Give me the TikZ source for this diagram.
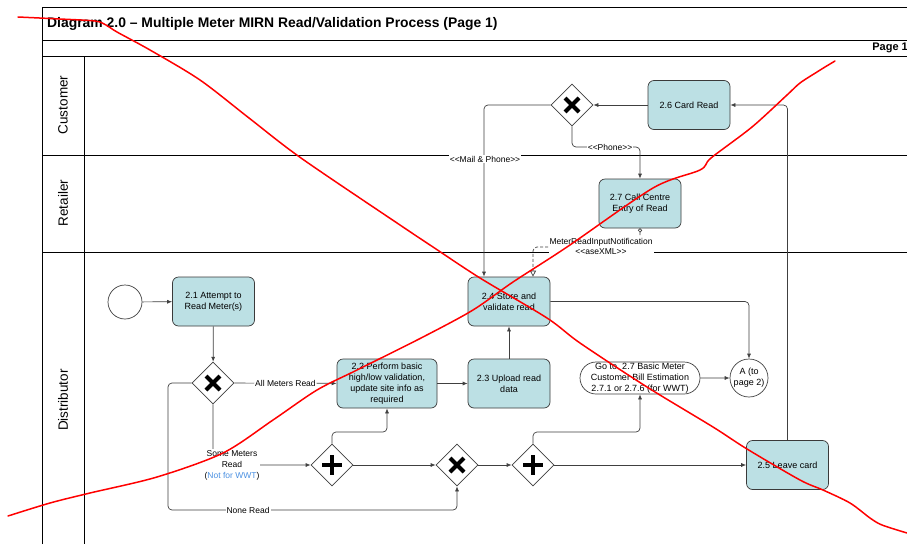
\documentclass[tikz,border=0pt]{standalone}
\usepackage{fontspec}
\setmainfont{Liberation Sans}
\usetikzlibrary{shapes.geometric,shapes.misc,arrows.meta}
\definecolor{boxfill}{HTML}{BCE0E4}
\definecolor{boxline}{HTML}{3A3A3A}
\definecolor{lineg}{HTML}{404040}
\definecolor{wwtblue}{HTML}{4A90E2}
\newcommand{\dlt}{<\kern0pt<}
\newcommand{\dgt}{>\kern0pt>}
\tikzset{
  task/.style={rectangle, rounded corners=6pt, draw=boxline, line width=0.7pt, fill=boxfill,
    minimum width=82pt, minimum height=49pt, align=center, inner sep=1pt,
    font=\fontsize{9}{11}\selectfont},
  gwbase/.style={diamond, draw=lineg, line width=0.7pt, fill=white, minimum width=42pt, minimum height=42pt, inner sep=0pt},
  xgw/.style={gwbase, path picture={
    \draw[line width=4.2pt, black] ([shift={(-7pt,-7pt)}]path picture bounding box.center) -- ([shift={(7pt,7pt)}]path picture bounding box.center)
      ([shift={(-7pt,7pt)}]path picture bounding box.center) -- ([shift={(7pt,-7pt)}]path picture bounding box.center);}},
  pgw/.style={gwbase, path picture={
    \draw[line width=4.4pt, black] ([shift={(-10pt,0pt)}]path picture bounding box.center) -- ([shift={(10pt,0pt)}]path picture bounding box.center)
      ([shift={(0pt,10pt)}]path picture bounding box.center) -- ([shift={(0pt,-10pt)}]path picture bounding box.center);}},
  startev/.style={circle, draw=lineg, line width=0.7pt, minimum size=34pt, inner sep=0pt},
  oval/.style={rounded rectangle, draw=lineg, line width=0.7pt, minimum width=116pt, minimum height=32pt,
    inner sep=0pt, align=center, font=\fontsize{9}{11}\selectfont},
  endcirc/.style={circle, draw=lineg, line width=0.7pt, minimum size=38pt, inner sep=0pt, align=center,
    font=\fontsize{9}{11}\selectfont},
  flow/.style={draw=lineg, line width=0.7pt, rounded corners=4pt, -{Latex[length=5pt,width=4pt]}},
  msg/.style={draw=lineg, line width=0.7pt, dashed, dash pattern=on 3pt off 2pt, rounded corners=4pt,
    {Circle[open,length=4pt,width=4pt]}-{Triangle[open,length=6pt,width=6pt]}},
  lbl/.style={fill=white, inner sep=1pt, align=center, font=\fontsize{8.5}{11}\selectfont},
  lane/.style={draw=black, line width=0.8pt},
  lanelabel/.style={rotate=90, font=\fontsize{13.5}{15}\selectfont},
  redmark/.style={draw=red, line width=1.5pt, line cap=round, line join=round}
}
\begin{document}
\begin{tikzpicture}[x=1pt,y=-1pt]
\useasboundingbox (0,0) rectangle (907,544);
\clip (0,0) rectangle (907,544);
\fill[white] (0,0) rectangle (907,544);

% frame and lanes
\draw[lane] (42,544) -- (42,7) -- (920,7);
\draw[lane] (42,40) -- (920,40);
\draw[lane] (42,56) -- (920,56);
\draw[lane] (42,155) -- (920,155);
\draw[lane] (42,252) -- (920,252);
\draw[lane] (84,56) -- (84,544);
\node[anchor=west, font=\bfseries\fontsize{13.9}{15}\selectfont, inner sep=0pt] (title) at (47,24)
  {Diagram 2.0 -- Multiple Meter MIRN Read/Validation Process (Page 1)};
\node[anchor=east, font=\bfseries\fontsize{11}{13}\selectfont, inner sep=0pt] (pg) at (908,48) {Page 1};
\node[lanelabel] (lc) at (63,105) {Customer};
\node[lanelabel] (lr) at (63,203) {Retailer};
\node[lanelabel] (ld) at (63,400) {Distributor};

% nodes
\node[startev] (s) at (125,302) {};
\node[task] (t21) at (213.5,301.5) {2.1 Attempt to\\Read Meter(s)};
\node[xgw] (x1) at (213,383) {};
\node[task, minimum width=100pt] (t22) at (387,383.5) {2.2 Perform basic\\high/low validation,\\update site info as\\required};
\node[task] (t23) at (509,383.5) {2.3 Upload read\\data};
\node[task] (t24) at (509,301.5) {2.4 Store and\\validate read};
\node[pgw] (p1) at (332,465) {};
\node[xgw] (x2) at (457,465) {};
\node[pgw] (p2) at (533,465) {};
\node[task] (t25) at (787.5,465) {2.5 Leave card};
\node[oval] (go) at (640,378) {Go to\ \ 2.7 Basic Meter\\Customer Bill Estimation\\2.7.1 or 2.7.6 (for WWT)};
\node[endcirc] (A) at (749,378) {A (to\\page 2)};
\node[task] (t26) at (689,105) {2.6 Card Read};
\node[xgw] (x3) at (572,105) {};
\node[task] (t27) at (640,203.5) {2.7 Call Centre\\Entry of Read};

% connectors
\draw[flow] (s) -- (t21);
\draw[flow] (t21) -- (x1);
\draw[flow] (x1) -- node[lbl] {All Meters Read} (t22);
\draw[flow] (x1.south) |- (p1.west);
\node[lbl] (lsome) at (232,465) {Some Meters\\Read\\(\textcolor{wwtblue}{Not for WWT})};
\draw[flow] (x1.west) -| (168,510) -| (x2.south);
\node[lbl] (lnone) at (248,510) {None Read};
\draw[flow] (t22) -- (t23);
\draw[flow] (t23) -- (t24);
\draw[flow] (p1.north) -- (332,432) -| (t22.south);
\draw[flow] (p1) -- (x2);
\draw[flow] (x2) -- (p2);
\draw[flow] (p2.north) -- (533,432) -| (go.south);
\draw[flow] (p2) -- (t25);
\draw[flow] (go) -- (A);
\draw[flow] (t24.east) -| (A.north);
\draw[flow] (t25.north) |- (t26.east);
\draw[flow] (t26) -- (x3);
\draw[flow] (x3.west) -| ([xshift=-25pt]t24.north);
\node[lbl] (lmail) at (485,159) {\dlt Mail \& Phone\dgt};
\draw[flow] (x3.south) -- (572,147) -| (t27.north);
\node[lbl] (lphone) at (610,147) {\dlt Phone\dgt};
\draw[msg] (t27.south) -- (640,247) -| ([xshift=24pt]t24.north);
\node[lbl, font=\fontsize{8.5}{10.5}\selectfont] (lmsg) at (601,246.5) {MeterReadInputNotification\\\dlt aseXML\dgt};

% red strike marks
\draw[redmark] plot[smooth, tension=0.5] coordinates {(18,17) (60,19) (95,21) (106,25) (117,32) (150,50) (200,80) (249,118) (301,158) (400,225) (433,247) (480,278) (547,318) (580,343) (647,387) (713,427) (747,449) (800,480) (823,490) (850,503) (870,518) (882,525) (907,533)};
\draw[redmark] plot[smooth, tension=0.5] coordinates {(8,516) (50,503) (90,493) (157,477) (223,453) (273,420) (317,390) (357,370) (423,337) (473,310) (513,282) (567,247) (653,188) (700,170) (711,158) (752,127) (787,95) (800,83) (817,72) (825,67) (835,61)};
\end{tikzpicture}
\end{document}
